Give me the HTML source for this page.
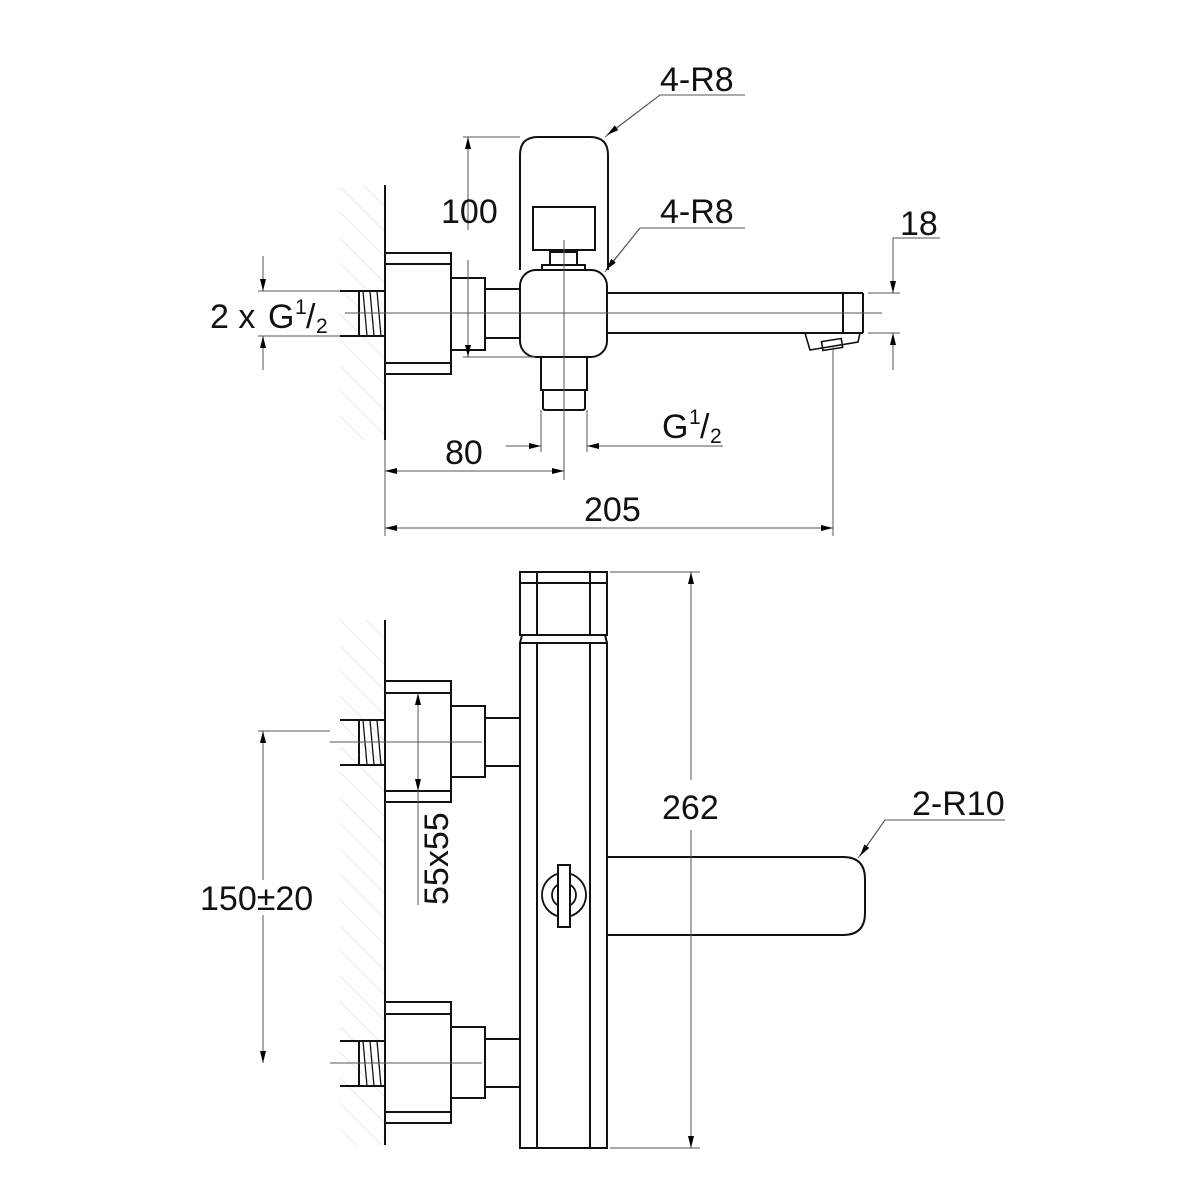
<!DOCTYPE html>
<html><head><meta charset="utf-8"><style>
html,body{margin:0;padding:0;background:#fff}
svg{display:block}
text{font-family:"Liberation Sans",Arial,sans-serif;fill:#111}
</style></head><body>
<svg width="1200" height="1200" viewBox="0 0 1200 1200" xmlns="http://www.w3.org/2000/svg">
<defs>
<marker id="a" viewBox="0 0 12 6" refX="12" refY="3" markerWidth="12" markerHeight="6" orient="auto-start-reverse" markerUnits="userSpaceOnUse"><path d="M0,0 L12,3 L0,6 z" fill="#000"/></marker>
<pattern id="h" width="18" height="18" patternUnits="userSpaceOnUse" patternTransform="rotate(-45)"><line x1="0" y1="0" x2="0" y2="18" stroke="#d4d4d4" stroke-width="1"/></pattern>
</defs>
<g fill="none" stroke="#111" stroke-width="2">
<rect x="340" y="185" width="45" height="255" fill="url(#h)" stroke="none"/>
<line x1="385" y1="185" x2="385" y2="440"/>
<line x1="340" y1="291" x2="385" y2="291"/><line x1="340" y1="336" x2="385" y2="336"/>
<rect x="359" y="291" width="26" height="45"/>
<path d="M363,291 L367,336 M370,291 L374,336 M377,291 L381,336" stroke-width="1.3"/>
<rect x="385" y="253" width="66" height="121"/>
<line x1="385" y1="264" x2="451" y2="264"/><line x1="385" y1="363" x2="451" y2="363"/>
<rect x="451" y="278" width="34" height="72"/>
<rect x="485" y="289" width="35" height="49"/>
<path d="M520,270 V155 Q520,137 538,137 H590 Q608,137 608,155 V270"/>
<rect x="533" y="207" width="62" height="43"/>
<rect x="550" y="252" width="27" height="13"/>
<rect x="542" y="265" width="43" height="5"/>
<rect x="520" y="270" width="87" height="87" rx="16"/>
<rect x="541" y="357" width="46" height="33"/>
<path d="M543,390 V408 Q543,410 546,410 H582 Q585,410 585,408 V390"/>
<line x1="607" y1="293" x2="863" y2="293"/><line x1="607" y1="333" x2="863" y2="333"/>
<line x1="863" y1="293" x2="863" y2="333"/><line x1="843" y1="293" x2="843" y2="333"/>
<path d="M805,333 L810,350 L858,342 L860,333" stroke-width="1.6"/>
<rect x="822" y="340" width="20" height="9" transform="rotate(-9 832 344)" stroke-width="1.6"/>
</g>
<g fill="none" stroke="#555" stroke-width="1">
<line x1="345" y1="313" x2="882" y2="313"/>
<line x1="564" y1="240" x2="564" y2="480"/>
<line x1="463" y1="137" x2="520" y2="137"/><line x1="463" y1="357" x2="535" y2="357"/>
<line x1="468" y1="230" x2="468" y2="137" marker-end="url(#a)"/><line x1="468" y1="260" x2="468" y2="357" marker-end="url(#a)"/>
<polyline points="745,95 660,95 605,137"/><polyline points="745,228 640,228 605,272"/>
<line x1="868" y1="293" x2="900" y2="293"/><line x1="868" y1="333" x2="900" y2="333"/>
<polyline points="940,238 893,238 893,293"/><line x1="893" y1="370" x2="893" y2="333"/>
<line x1="893" y1="360" x2="893" y2="333" marker-end="url(#a)"/>
<line x1="893" y1="260" x2="893" y2="293" marker-end="url(#a)"/>
<line x1="258" y1="291" x2="340" y2="291"/><line x1="258" y1="336" x2="340" y2="336"/>
<line x1="263" y1="256" x2="263" y2="291" marker-end="url(#a)"/><line x1="263" y1="370" x2="263" y2="336" marker-end="url(#a)"/>
<line x1="541" y1="410" x2="541" y2="452"/><line x1="587" y1="410" x2="587" y2="452"/>
<line x1="506" y1="446" x2="541" y2="446" marker-end="url(#a)"/><line x1="723" y1="446" x2="587" y2="446" marker-end="url(#a)"/>
<line x1="385" y1="440" x2="385" y2="536"/><line x1="833" y1="345" x2="833" y2="536"/>
<line x1="385" y1="471" x2="564" y2="471" marker-end="url(#a)" marker-start="url(#a)"/>
<line x1="385" y1="528" x2="833" y2="528" marker-end="url(#a)" marker-start="url(#a)"/>
</g>
<g font-size="34">
<text x="660" y="91">4-R8</text>
<text x="660" y="223">4-R8</text>
<text x="441" y="223">100</text>
<text x="900" y="235">18</text>
<text x="210" y="328">2 x</text><text x="268" y="328">G</text><text x="295" y="314" font-size="21">1</text><text x="306" y="328">/</text><text x="316" y="333" font-size="21">2</text>
<text x="662" y="438">G</text><text x="689" y="424" font-size="21">1</text><text x="700" y="438">/</text><text x="710" y="443" font-size="21">2</text>
<text x="445" y="464">80</text>
<text x="584" y="521">205</text>
</g>
<g fill="none" stroke="#111" stroke-width="2">
<rect x="340" y="620" width="45" height="525" fill="url(#h)" stroke="none"/>
<line x1="385" y1="620" x2="385" y2="1145"/>
<rect x="520" y="572" width="87" height="63"/>
<line x1="520" y1="583" x2="607" y2="583"/>
<line x1="537" y1="572" x2="537" y2="635"/><line x1="590" y1="572" x2="590" y2="635"/>
<rect x="520" y="643" width="87" height="505"/>
<line x1="537" y1="643" x2="537" y2="1148"/><line x1="590" y1="643" x2="590" y2="1148"/>
<line x1="522" y1="635" x2="520" y2="643"/><line x1="605" y1="635" x2="607" y2="643"/>
<line x1="340" y1="720" x2="385" y2="720"/><line x1="340" y1="765" x2="385" y2="765"/>
<rect x="359" y="720" width="26" height="45"/>
<path d="M363,720 L367,765 M370,720 L374,765 M377,720 L381,765" stroke-width="1.3"/>
<rect x="385" y="681" width="66" height="121"/>
<line x1="385" y1="693" x2="451" y2="693"/><line x1="385" y1="791" x2="451" y2="791"/>
<rect x="451" y="706" width="34" height="71"/>
<rect x="485" y="718" width="35" height="48"/>
<line x1="340" y1="1041" x2="385" y2="1041"/><line x1="340" y1="1086" x2="385" y2="1086"/>
<rect x="359" y="1041" width="26" height="45"/>
<path d="M363,1041 L367,1086 M370,1041 L374,1086 M377,1041 L381,1086" stroke-width="1.3"/>
<rect x="385" y="1002" width="66" height="121"/>
<line x1="385" y1="1014" x2="451" y2="1014"/><line x1="385" y1="1112" x2="451" y2="1112"/>
<rect x="451" y="1027" width="34" height="71"/>
<rect x="485" y="1039" width="35" height="48"/>
<path d="M607,857 H843 Q865,857 865,879 V913 Q865,935 843,935 H607"/>
<circle cx="564" cy="895" r="22" stroke-width="1.8"/>
<circle cx="564" cy="895" r="12" stroke-width="1.8"/>
<circle cx="564" cy="895" r="6" stroke-width="1.8"/>
<rect x="558" y="865" width="12" height="62" fill="#fff"/>
</g>
<g fill="none" stroke="#555" stroke-width="1">
<line x1="330" y1="742" x2="482" y2="742"/><line x1="330" y1="1063" x2="482" y2="1063"/>
<line x1="258" y1="731" x2="330" y2="731"/>
<line x1="263" y1="880" x2="263" y2="731" marker-end="url(#a)"/><line x1="263" y1="915" x2="263" y2="1063" marker-end="url(#a)"/>
<line x1="418" y1="740" x2="418" y2="693" marker-end="url(#a)"/><line x1="418" y1="740" x2="418" y2="791" marker-end="url(#a)"/>
<line x1="418" y1="791" x2="418" y2="905"/>
<line x1="610" y1="572" x2="700" y2="572"/><line x1="610" y1="1148" x2="700" y2="1148"/>
<line x1="691" y1="780" x2="691" y2="572" marker-end="url(#a)"/><line x1="691" y1="830" x2="691" y2="1148" marker-end="url(#a)"/>
<polyline points="1005,820 885,820 858,858"/>
<line x1="885" y1="820" x2="860" y2="856" marker-end="url(#a)"/>
<line x1="660" y1="95" x2="607" y2="135" marker-end="url(#a)"/>
<line x1="640" y1="228" x2="606" y2="270" marker-end="url(#a)"/>
</g>
<g font-size="34">
<text x="200" y="910">150±20</text>
<text x="662" y="819">262</text>
<text x="912" y="815">2-R10</text>
<text transform="translate(448,905) rotate(-90)">55x55</text>
</g>
</svg>
</body></html>
